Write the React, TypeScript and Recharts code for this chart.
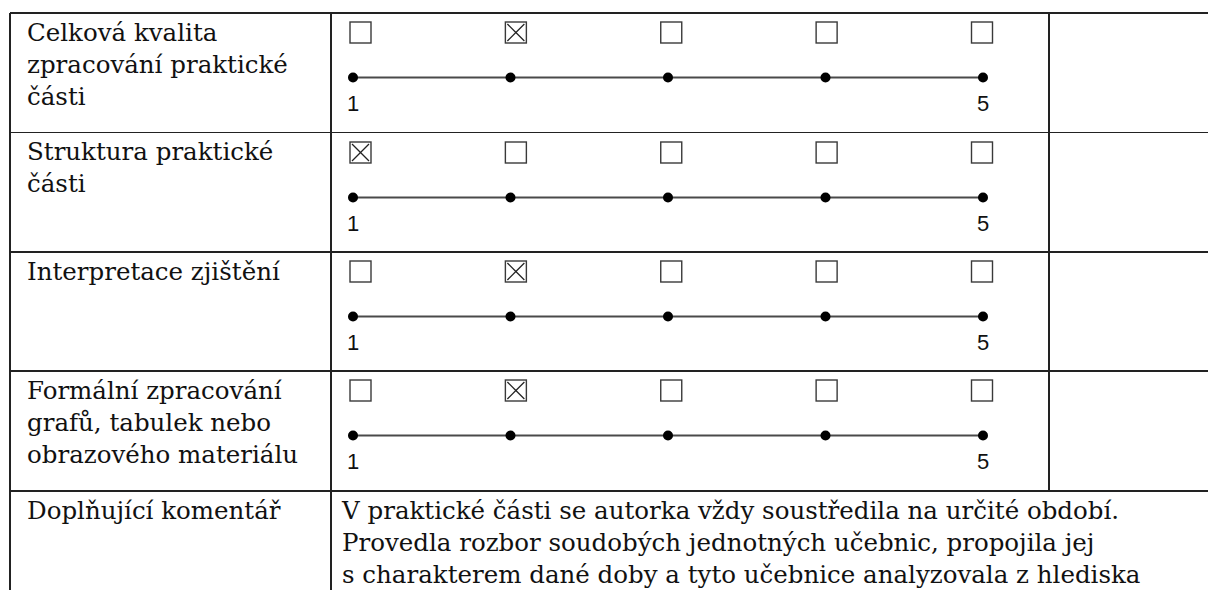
import { ScatterChart, Scatter, XAxis, YAxis } from 'recharts'

const criteria = [
  ['Celková kvalita', 'zpracování praktické', 'části'],
  ['Struktura praktické', 'části'],
  ['Interpretace zjištění'],
  ['Formální zpracování', 'grafů, tabulek nebo', 'obrazového materiálu'],
]
const ratings = [2, 1, 2, 2]
const scale = [1, 2, 3, 4, 5]
const scaleTicks = [1, 5]
const commentLabel = 'Doplňující komentář'
const commentLines = [
  'V praktické části se autorka vždy soustředila na určité období.',
  'Provedla rozbor soudobých jednotných učebnic, propojila jej',
  's charakterem dané doby a tyto učebnice analyzovala z hlediska',
]

const ROW_TOP = [13, 132.5, 252, 371, 491]
const COL_X = [10, 331, 1049]
const SERIF = '"DejaVu Serif", serif'
const SANS = '"Liberation Sans", Arial, sans-serif'
const BORDER = '#222'
const DOT_Y = 64.5
const LABEL_GAP = 25.8

function CheckBox(props: any) {
  const { cx, cy, payload } = props
  const s = 10.5
  return (
    <g>
      <rect x={cx - s} y={cy - s} width={s * 2} height={s * 2} fill="#fff" stroke="#3a3a3a" strokeWidth={1.4} />
      {payload.checked && (
        <g stroke="#222" strokeWidth={1.3}>
          <line x1={cx - s + 2} y1={cy - s + 2} x2={cx + s - 2} y2={cy + s - 2} />
          <line x1={cx + s - 2} y1={cy - s + 2} x2={cx - s + 2} y2={cy + s - 2} />
        </g>
      )}
    </g>
  )
}

function Dot(props: any) {
  return <circle cx={props.cx} cy={props.cy} r={5} fill="#000" />
}

function ScaleTick(props: any) {
  const { x, payload } = props
  return (
    <text x={x} y={DOT_Y + LABEL_GAP} textAnchor="middle" dominantBaseline="central" fontFamily={SANS} fontSize={22} fill="#111">
      {payload.value}
    </text>
  )
}

function RatingScale({ value }: { value: number }) {
  const dots = scale.map((v) => ({ x: v, y: 0 }))
  const boxes = scale.map((v) => ({ x: v, y: 1, checked: v === value }))
  return (
    <ScatterChart width={718} height={119} margin={{ top: 19.5, right: 0, bottom: 0, left: 0 }}>
      <XAxis
        xAxisId="dot"
        type="number"
        dataKey="x"
        domain={[1, 5]}
        ticks={scaleTicks}
        padding={{ left: 22, right: 66 }}
        axisLine={false}
        tickLine={false}
        height={119 - DOT_Y}
        tick={<ScaleTick />}
      />
      <XAxis xAxisId="box" type="number" dataKey="x" domain={[1, 5]} padding={{ left: 29.5, right: 67 }} hide />
      <YAxis type="number" dataKey="y" domain={[0, 1]} hide />
      <Scatter
        data={dots}
        xAxisId="dot"
        line={{ stroke: '#4a4a4a', strokeWidth: 2 }}
        shape={<Dot />}
        isAnimationActive={false}
      />
      <Scatter data={boxes} xAxisId="box" shape={<CheckBox />} isAnimationActive={false} />
    </ScatterChart>
  )
}

function TextBlock({ lines, left, top }: { lines: string[]; left: number; top: number }) {
  return (
    <div style={{ position: 'absolute', left, top, fontFamily: SERIF, fontSize: 24.5, lineHeight: '32px', color: '#111', whiteSpace: 'pre' }}>
      {lines.map((l, i) => (
        <div key={i}>{l}</div>
      ))}
    </div>
  )
}

export default function App() {
  return (
    <div style={{ position: 'fixed', left: 0, top: 0, width: 1208, height: 590, background: '#fff', overflow: 'hidden' }}>
      {/* horizontal rules */}
      {ROW_TOP.map((y, i) => (
        <div key={'h' + i} style={{ position: 'absolute', left: COL_X[0], top: y - 0.75, width: 1208, height: 1.5, background: BORDER }} />
      ))}
      {/* vertical rules */}
      <div style={{ position: 'absolute', left: COL_X[0] - 0.75, top: ROW_TOP[0], width: 1.5, height: 600, background: BORDER }} />
      <div style={{ position: 'absolute', left: COL_X[1] - 0.75, top: ROW_TOP[0], width: 1.5, height: 600, background: BORDER }} />
      <div style={{ position: 'absolute', left: COL_X[2] - 0.75, top: ROW_TOP[0], width: 1.5, height: ROW_TOP[4] - ROW_TOP[0], background: BORDER }} />

      {criteria.map((lines, i) => (
        <TextBlock key={'t' + i} lines={lines} left={27} top={ROW_TOP[i] + 3.5} />
      ))}
      {ratings.map((r, i) => (
        <div key={'c' + i} style={{ position: 'absolute', left: COL_X[1], top: ROW_TOP[i] }}>
          <RatingScale value={r} />
        </div>
      ))}

      <TextBlock lines={[commentLabel]} left={27} top={ROW_TOP[4] + 3.5} />
      <TextBlock lines={commentLines} left={342} top={ROW_TOP[4] + 3.5} />
    </div>
  )
}
